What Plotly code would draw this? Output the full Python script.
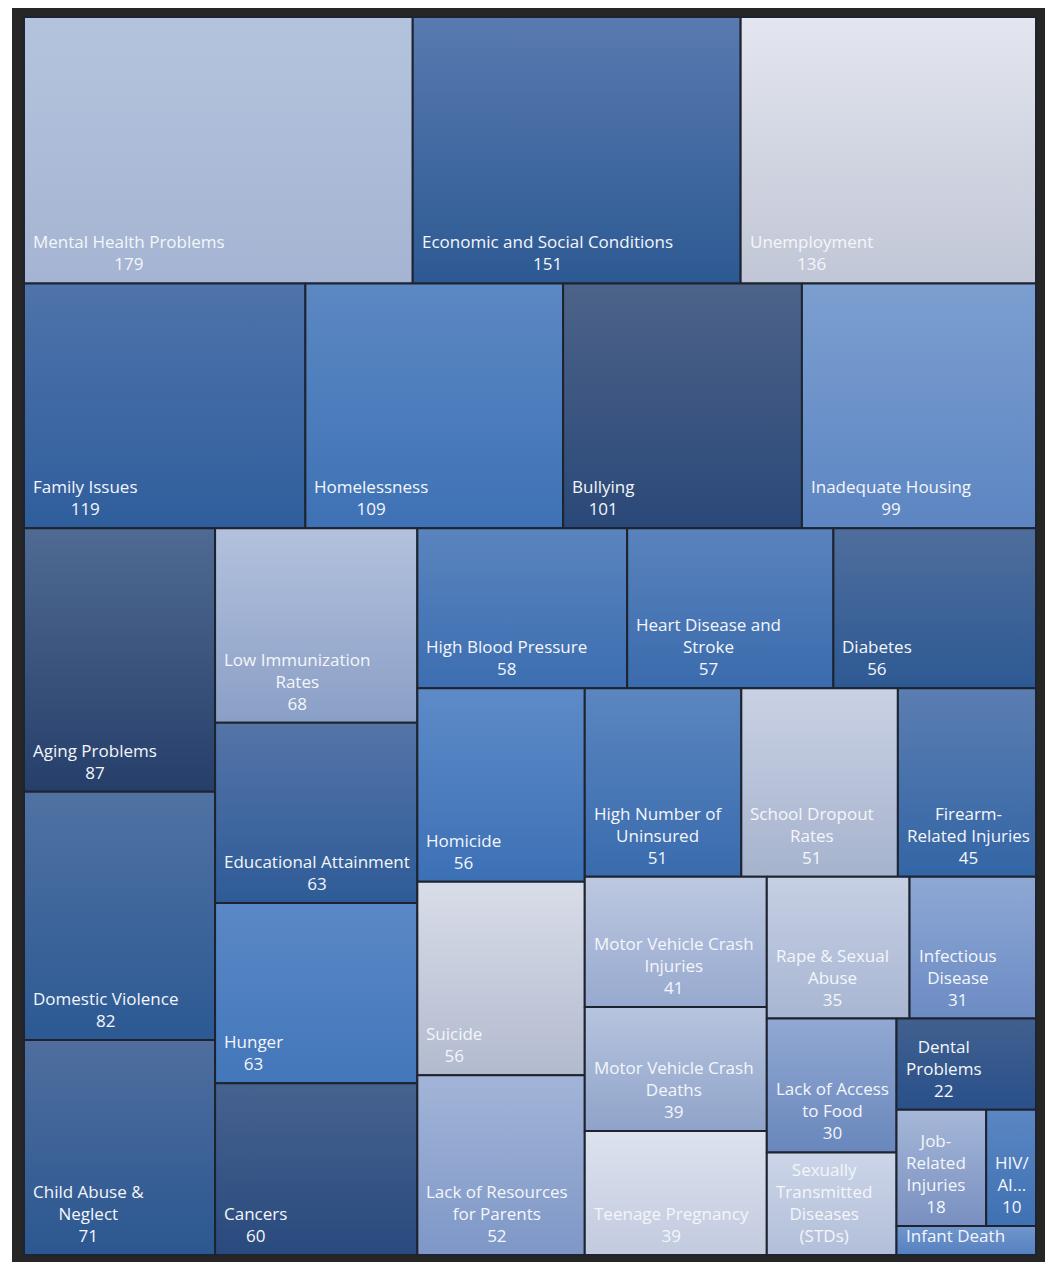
import plotly.graph_objects as go

# issues ranked by number of mentions
labels = ["Mental Health Problems", "Economic and Social Conditions", "Unemployment",
          "Family Issues", "Homelessness", "Bullying", "Inadequate Housing",
          "Aging Problems", "Domestic Violence", "Child Abuse & Neglect",
          "Low Immunization Rates", "Educational Attainment", "Hunger", "Cancers",
          "High Blood Pressure", "Heart Disease and Stroke", "Diabetes",
          "Homicide", "Suicide", "Lack of Resources for Parents",
          "High Number of Uninsured", "School Dropout Rates", "Firearm-Related Injuries",
          "Motor Vehicle Crash Injuries", "Motor Vehicle Crash Deaths", "Teenage Pregnancy",
          "Rape & Sexual Abuse", "Infectious Disease", "Lack of Access to Food",
          "Sexually Transmitted Diseases (STDs)", "Dental Problems",
          "Job-Related Injuries", "HIV/AIDS", "Infant Death"]
values = [179, 151, 136, 119, 109, 101, 99, 87, 82, 71, 68, 63, 63, 60, 58, 57, 56,
          56, 56, 52, 51, 51, 45, 41, 39, 39, 35, 31, 30, 23, 22, 18, 10, 7]

# label text as wrapped inside the tiles
wrapped = ["Mental Health Problems", "Economic and Social Conditions", "Unemployment",
           "Family Issues", "Homelessness", "Bullying", "Inadequate Housing",
           "Aging Problems", "Domestic Violence", "Child Abuse &<br>Neglect",
           "Low Immunization<br>Rates", "Educational Attainment", "Hunger", "Cancers",
           "High Blood Pressure", "Heart Disease and<br>Stroke", "Diabetes",
           "Homicide", "Suicide", "Lack of Resources<br>for Parents",
           "High Number of<br>Uninsured", "School Dropout<br>Rates", "Firearm-<br>Related Injuries",
           "Motor Vehicle Crash<br>Injuries", "Motor Vehicle Crash<br>Deaths", "Teenage Pregnancy",
           "Rape & Sexual<br>Abuse", "Infectious<br>Disease", "Lack of Access<br>to Food",
           "Sexually<br>Transmitted<br>Diseases<br>(STDs)", "Dental<br>Problems",
           "Job-<br>Related<br>Injuries", "HIV/<br>AI...", "Infant Death"]
hidden_values = ["Sexually Transmitted Diseases (STDs)", "Infant Death"]

top_colors = ["#b4c3dd", "#587ab0", "#e3e6ef", "#4f73aa", "#5c88c3", "#4d6389", "#7c9fd0",
              "#4f6a93", "#5072a3", "#4f6e9e", "#b3c1dd", "#5474a8", "#5b88c6", "#46628f",
              "#5a84be", "#5a83bd", "#4f6e9d", "#5e8bc8", "#d9dde9", "#a2b5d8",
              "#5b86c0", "#c9d1e4", "#5b7eb1", "#bdc8e0", "#b7c4df", "#dde2ee",
              "#c6cfe3", "#8ea8d5", "#91a8d2", "#ccd5e8", "#41608f", "#a6b7d8", "#5b86c3", "#7196cc"]
bottom_colors = ["#a5b4d2", "#2d5992", "#c1c6d6", "#2f5e9d", "#3e72b5", "#2a4878", "#5c85c2",
                 "#263f6a", "#2c5993", "#2b5790", "#8a9fc6", "#2e5b97", "#4277ba", "#294a7e",
                 "#3c6eb1", "#3a6bad", "#2d5993", "#3c70b5", "#b2bace", "#7e97c7",
                 "#396bad", "#a6b3cd", "#3365a5", "#97a9cf", "#8fa3c9", "#c2cadf",
                 "#a8b6d3", "#6c8bc4", "#6987bc", "#b2bfd9", "#29508a", "#788fc0", "#3f71b3", "#5580c0"]

# how many tiles go in each strip, in the order Excel built them
strip_sizes = [3, 4, 3, 4, 3, 3, 3, 3, 2, 2, 1, 2, 1]

W, H = 1012, 1238
# the original chart was laid out taller, then squeezed to fit
layout_aspect = 1.28


def strips(vals, sizes, x0, y0, x1, y1):
    # lay each strip along the shorter side of what is left
    rects = []
    total = sum(vals)
    i = 0
    for k in sizes:
        row = vals[i:i + k]
        s = sum(row)
        dx, dy = x1 - x0, y1 - y0
        if dx < dy:
            ny = y0 + dy * s / total
            cx = x0
            for v in row:
                w = dx * v / s
                rects.append((cx, y0, cx + w, ny))
                cx += w
            y0 = ny
        else:
            nx = x0 + dx * s / total
            cy = y0
            for v in row:
                h = dy * v / s
                rects.append((x0, cy, nx, cy + h))
                cy += h
            x0 = nx
        total -= s
        i += k
    return rects


ky = H / (W * layout_aspect)
rects = [(a, b * ky, c, d * ky)
         for a, b, c, d in strips(values, strip_sizes, 0, 0, W, W * layout_aspect)]

fig = go.Figure()
annotations = []
for i, (a, b, c, d) in enumerate(rects):
    fig.add_trace(go.Scatter(
        x=[a, c, c, a, a], y=[b, b, d, d, b],
        mode="lines", fill="toself",
        line=dict(color="#1d2430", width=2),
        fillgradient=dict(type="vertical", start=b, stop=d,
                          colorscale=[[0, top_colors[i]], [1, bottom_colors[i]]]),
        hoverinfo="text", text=f"{labels[i]}: {values[i]}",
        showlegend=False))
    txt = wrapped[i]
    if labels[i] not in hidden_values:
        txt += "<br>" + str(values[i])
    annotations.append(dict(
        x=a + 7, y=d - 6, text=txt, showarrow=False,
        xanchor="left", yanchor="bottom", align="center",
        font=dict(family="Open Sans", size=17, color="#f4f6fa")))

fig.update_layout(
    width=1045, height=1254,
    margin=dict(l=4, r=6, t=0, b=0),
    paper_bgcolor="white",
    plot_bgcolor="#262626",
    annotations=annotations,
    xaxis=dict(range=[-12, W + 11], visible=False, fixedrange=True),
    yaxis=dict(range=[H + 7, -9], visible=False, fixedrange=True),
)

fig.write_html("out.html")
